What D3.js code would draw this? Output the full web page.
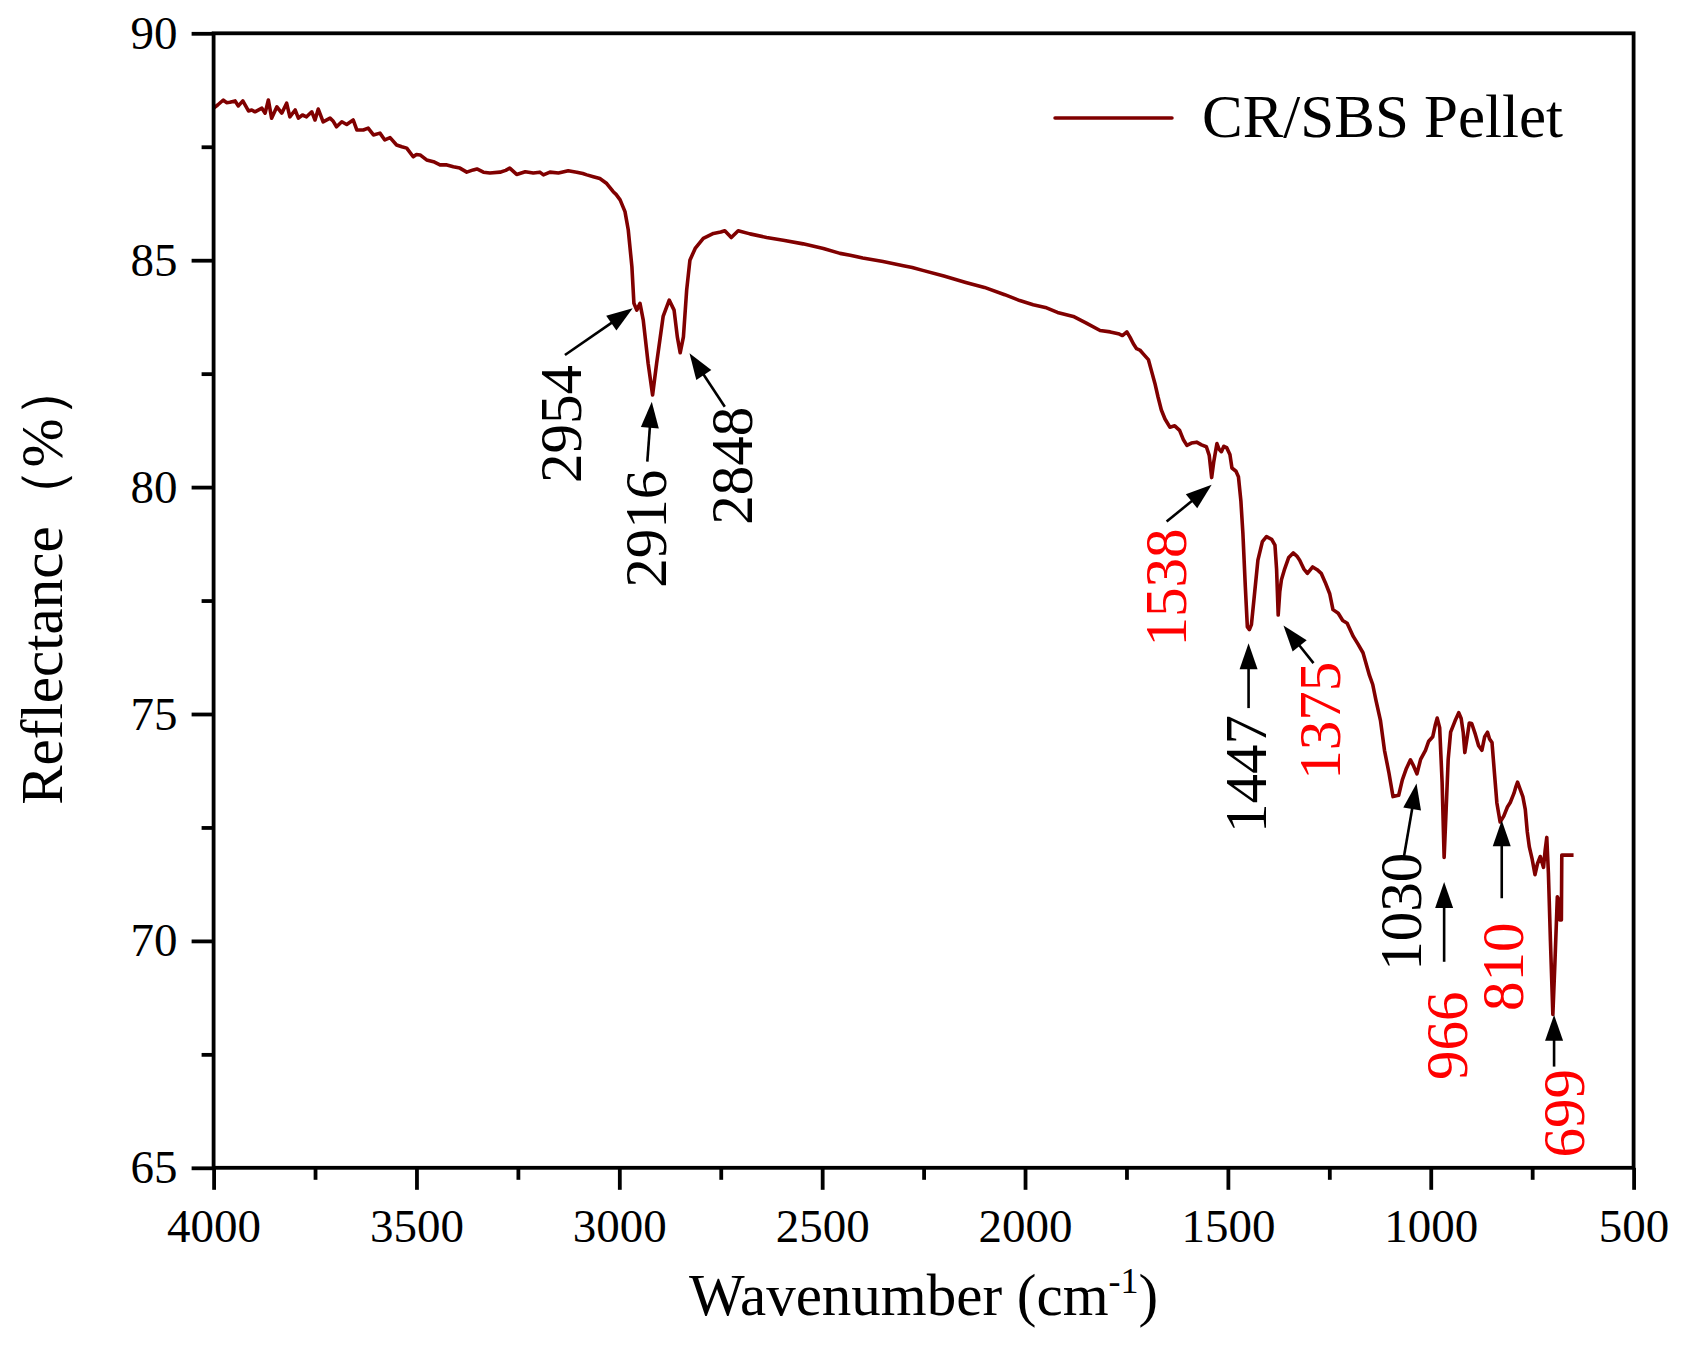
<!DOCTYPE html>
<html>
<head>
<meta charset="utf-8">
<script src="https://cdn.jsdelivr.net/npm/d3@7"></script>
<style>
  html, body { margin: 0; padding: 0; background: #ffffff; }
  svg { display: block; }
  text { font-family: "Liberation Serif", "Times New Roman", serif; }
</style>
</head>
<body>
<svg id="chart" width="1683" height="1370"></svg>
<script>
// ---------------- data ----------------
const wavenumber = [
  4000, 3990, 3976, 3968, 3960, 3947, 3939, 3928, 3914, 3906, 3898, 3881, 3873, 3865, 3857, 3844,
  3832, 3820, 3812, 3799, 3791, 3781, 3771, 3758, 3750, 3742, 3730, 3713, 3705, 3697, 3684, 3672,
  3656, 3647, 3631, 3619, 3606, 3590, 3578, 3565, 3549, 3536, 3524, 3508, 3500, 3491, 3475, 3458,
  3442, 3425, 3409, 3393, 3376, 3360, 3351, 3335, 3319, 3294, 3280, 3270, 3253, 3232, 3212, 3196,
  3187, 3171, 3150, 3126, 3105, 3090, 3080, 3064, 3048, 3031, 3015, 3008, 2998, 2986, 2978, 2969,
  2964, 2957, 2949, 2941, 2929, 2918, 2908, 2892, 2877, 2865, 2857, 2850, 2842, 2834, 2826, 2813,
  2793, 2768, 2750, 2740, 2724, 2707, 2678, 2637, 2596, 2547, 2497, 2456, 2431, 2400, 2350, 2300,
  2278, 2250, 2200, 2146, 2100, 2050, 2013, 1980, 1950, 1920, 1881, 1850, 1815, 1790, 1770, 1760,
  1749, 1741, 1733, 1725, 1717, 1707, 1696, 1688, 1680, 1672, 1664, 1655, 1643, 1631, 1619, 1610,
  1601, 1590, 1577, 1565, 1553, 1546, 1540, 1535, 1527, 1522, 1516, 1510, 1503, 1495, 1490, 1480,
  1474, 1468, 1463, 1457, 1452, 1447, 1442, 1436, 1426, 1415, 1405, 1399, 1392, 1384, 1380, 1376,
  1372, 1368, 1360, 1350, 1339, 1330, 1323, 1313, 1304, 1291, 1280, 1270, 1260, 1249, 1241, 1228,
  1217, 1206, 1191, 1180, 1167, 1151, 1143, 1135, 1124, 1114, 1103, 1093, 1085, 1079, 1070, 1060,
  1050, 1042, 1034, 1025, 1013, 1005, 995, 989, 984, 978, 972, 967, 962, 957, 951, 940,
  931, 925, 920, 916, 910, 905, 899, 890, 882, 874, 867, 860, 855, 849, 843, 837,
  829, 820, 811, 804, 795, 790, 786, 780, 773, 767, 762, 757, 750, 743, 737, 730,
  722, 718, 714, 710, 705, 699, 694, 688, 684, 682, 678, 677, 665, 648
];
const reflectance = [
  88.35, 88.42, 88.53, 88.47, 88.48, 88.51, 88.40, 88.51, 88.29, 88.31, 88.27, 88.35, 88.24, 88.53, 88.13, 88.38,
  88.24, 88.46, 88.16, 88.31, 88.13, 88.20, 88.16, 88.27, 88.09, 88.33, 88.05, 88.13, 88.06, 87.94, 88.05, 87.99,
  88.09, 87.87, 87.87, 87.91, 87.76, 87.80, 87.65, 87.70, 87.54, 87.50, 87.47, 87.28, 87.33, 87.32, 87.21, 87.17,
  87.10, 87.10, 87.06, 87.03, 86.94, 86.99, 87.01, 86.94, 86.92, 86.94, 86.98, 87.03, 86.89, 86.95, 86.92, 86.94,
  86.88, 86.94, 86.92, 86.97, 86.94, 86.91, 86.88, 86.84, 86.80, 86.69, 86.51, 86.45, 86.33, 86.07, 85.67, 84.86,
  84.05, 83.90, 84.05, 83.68, 82.73, 82.03, 82.73, 83.76, 84.12, 83.90, 83.31, 82.96, 83.31, 84.34, 85.00, 85.26,
  85.48, 85.59, 85.62, 85.65, 85.50, 85.65, 85.58, 85.50, 85.44, 85.36, 85.26, 85.15, 85.11, 85.05, 84.97, 84.88,
  84.84, 84.77, 84.65, 84.51, 84.40, 84.24, 84.11, 84.02, 83.96, 83.85, 83.76, 83.62, 83.45, 83.42, 83.38, 83.34,
  83.42, 83.30, 83.16, 83.05, 83.02, 82.92, 82.81, 82.55, 82.29, 81.98, 81.70, 81.50, 81.32, 81.35, 81.25, 81.05,
  80.92, 80.97, 80.99, 80.93, 80.89, 80.70, 80.21, 80.55, 80.96, 80.84, 80.78, 80.90, 80.87, 80.72, 80.42, 80.35,
  80.23, 79.70, 78.98, 77.80, 76.92, 76.86, 76.97, 77.50, 78.39, 78.80, 78.91, 78.88, 78.85, 78.72, 78.20, 77.18,
  77.70, 77.96, 78.20, 78.45, 78.55, 78.48, 78.39, 78.20, 78.10, 78.24, 78.18, 78.10, 77.90, 77.65, 77.30, 77.22,
  77.06, 77.00, 76.71, 76.55, 76.35, 75.85, 75.65, 75.30, 74.86, 74.20, 73.70, 73.18, 73.20, 73.21, 73.55, 73.80,
  73.99, 73.85, 73.68, 74.00, 74.20, 74.40, 74.50, 74.75, 74.91, 74.70, 73.50, 71.84, 72.90, 74.00, 74.60, 74.85,
  75.03, 74.90, 74.60, 74.15, 74.50, 74.80, 74.79, 74.55, 74.30, 74.20, 74.50, 74.60, 74.45, 74.37, 73.70, 73.04,
  72.62, 72.75, 72.95, 73.05, 73.25, 73.40, 73.50, 73.35, 73.18, 72.90, 72.40, 72.07, 71.80, 71.46, 71.70, 71.86,
  71.62, 72.00, 72.28, 71.50, 70.00, 68.38, 69.50, 70.97, 70.90, 70.46, 70.46, 71.89, 71.89, 71.89
];
const seriesName = "CR/SBS Pellet";

const xMajorTicks = [4000, 3500, 3000, 2500, 2000, 1500, 1000, 500];
const xMinorTicks = [3750, 3250, 2750, 2250, 1750, 1250, 750];
const yMajorTicks = [65, 70, 75, 80, 85, 90];
const yMinorTicks = [67.5, 72.5, 77.5, 82.5, 87.5];

// peak annotations (data coordinates)
const annLabels  = ["2954", "2916", "2848", "1538", "1447", "1375", "1030", "966", "810", "699"];
const annTextWn  = [3145, 2937, 2723, 1655, 1458, 1275, 1076, 961, 824, 672];
const annTextV   = [81.39, 79.08, 80.47, 77.79, 73.68, 74.85, 70.64, 67.91, 69.43, 66.20];
const annTailWn  = [3134, 2931, 2740, 1651, 1449, 1289, 1066, 967, 825, 696];
const annTailV   = [82.91, 80.56, 81.77, 79.24, 75.13, 76.12, 71.86, 69.54, 70.94, 67.23];
const annTipWn   = [2967, 2920, 2827, 1540, 1449, 1363, 1035, 967, 825, 696];
const annTipV    = [83.94, 81.88, 82.95, 80.05, 76.56, 76.95, 73.47, 71.30, 72.66, 68.37];
const annHighlight = [false, false, false, true, false, true, false, true, true, true];

// ---------------- layout ----------------
const W = 1683, H = 1370;
const margin = { left: 213.6, right: W - 1633.6, top: 33.3, bottom: H - 1167.8 };
const pw = W - margin.left - margin.right;
const ph = H - margin.top - margin.bottom;
const lineColor = "#800000";
const serif = '"Liberation Serif", "Times New Roman", serif';

const svg = d3.select("#chart");
svg.append("rect").attr("width", W).attr("height", H).attr("fill", "#fff");

const x = d3.scaleLinear().domain([4000, 500]).range([margin.left, margin.left + pw]);
const y = d3.scaleLinear().domain([65, 90]).range([margin.top + ph, margin.top]);

svg.append("defs").append("clipPath").attr("id", "plotclip")
  .append("rect").attr("x", margin.left).attr("y", margin.top).attr("width", pw).attr("height", ph);

// spectrum
const pts = wavenumber.map((w, i) => [w, reflectance[i]]);
const line = d3.line().x(d => x(d[0])).y(d => y(d[1]));
svg.append("path")
  .attr("d", line(pts))
  .attr("fill", "none")
  .attr("stroke", lineColor)
  .attr("stroke-width", 3.6)
  .attr("stroke-linejoin", "round")
  .attr("clip-path", "url(#plotclip)");

// axes
const fontTick = 47;
const xAxisMajor = d3.axisBottom(x).tickValues(xMajorTicks).tickSize(22).tickPadding(19).tickFormat(d3.format("d"));
const xAxisMinor = d3.axisBottom(x).tickValues(xMinorTicks).tickSize(12).tickFormat("");
const yAxisMajor = d3.axisLeft(y).tickValues(yMajorTicks).tickSize(22).tickPadding(14).tickFormat(d3.format("d"));
const yAxisMinor = d3.axisLeft(y).tickValues(yMinorTicks).tickSize(12).tickFormat("");

function styleAxis(g) {
  g.attr("font-family", serif);
  g.select(".domain").remove();
  g.selectAll(".tick line").attr("stroke", "#000").attr("stroke-width", 3.8);
  g.selectAll(".tick text").attr("fill", "#000").style("font-size", fontTick + "px")
    .style("font-family", serif);
}
svg.append("g").attr("transform", `translate(0,${margin.top + ph})`).call(xAxisMinor).call(styleAxis);
svg.append("g").attr("transform", `translate(0,${margin.top + ph})`).call(xAxisMajor).call(styleAxis);
svg.append("g").attr("transform", `translate(${margin.left},0)`).call(yAxisMinor).call(styleAxis);
svg.append("g").attr("transform", `translate(${margin.left},0)`).call(yAxisMajor).call(styleAxis);

// frame
svg.append("rect")
  .attr("x", margin.left).attr("y", margin.top).attr("width", pw).attr("height", ph)
  .attr("fill", "none").attr("stroke", "#000").attr("stroke-width", 3.8);

// axis titles
const xt = svg.append("text")
  .attr("x", margin.left + pw / 2).attr("y", 1315)
  .attr("text-anchor", "middle").style("font-size", "59px").attr("fill", "#000");
xt.append("tspan").text("Wavenumber (cm");
xt.append("tspan").attr("dy", "-22").style("font-size", "36px").text("-1");
xt.append("tspan").attr("dy", "22").text(")");

svg.append("text")
  .attr("transform", `translate(62,582) rotate(-90)`)
  .attr("text-anchor", "middle").style("font-size", "59px").attr("fill", "#000")
  .text("Reflectance（%）");

// legend
svg.append("line")
  .attr("x1", 1055).attr("x2", 1172).attr("y1", 118).attr("y2", 118)
  .attr("stroke", lineColor).attr("stroke-width", 3.5).attr("stroke-linecap", "round");
svg.append("text")
  .attr("x", 1202).attr("y", 137).style("font-size", "61px").attr("fill", "#000")
  .text(seriesName);

// annotations
const headLen = 26, headHalf = 9;
const annG = svg.append("g");
annLabels.forEach((lab, i) => {
  const color = annHighlight[i] ? "#ff0000" : "#000000";
  const tx = x(annTailWn[i]), ty = y(annTailV[i]);
  const hx = x(annTipWn[i]), hy = y(annTipV[i]);
  const dx = hx - tx, dy = hy - ty;
  const len = Math.hypot(dx, dy);
  const ux = dx / len, uy = dy / len;
  const bx = hx - ux * headLen, by = hy - uy * headLen;
  annG.append("line")
    .attr("x1", tx).attr("y1", ty).attr("x2", bx + ux * 2).attr("y2", by + uy * 2)
    .attr("stroke", "#000").attr("stroke-width", 2.6);
  const px = -uy, py = ux;
  annG.append("path")
    .attr("d", `M${hx},${hy}L${bx + px * headHalf},${by + py * headHalf}L${bx - px * headHalf},${by - py * headHalf}Z`)
    .attr("fill", "#000");
  annG.append("text")
    .attr("transform", `translate(${x(annTextWn[i])},${y(annTextV[i])}) rotate(-90)`)
    .attr("text-anchor", "middle").attr("dy", "0.35em")
    .style("font-size", "59px").attr("fill", color)
    .text(lab);
});
</script>
</body>
</html>
